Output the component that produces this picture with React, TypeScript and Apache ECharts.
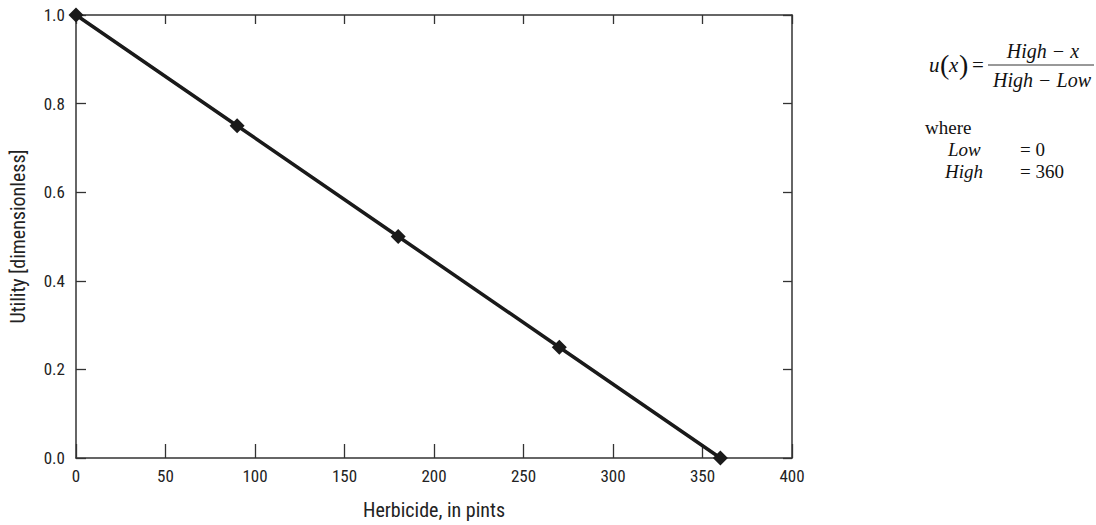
import React, { useEffect, useRef } from "react";
import * as echarts from "echarts";

const herbicide = [0, 90, 180, 270, 360];
const utility = [1.0, 0.75, 0.5, 0.25, 0.0];
const xTitle = "Herbicide, in pints";
const yTitle = "Utility [dimensionless]";

const SANS = "'Liberation Sans Narrow', 'Roboto Condensed', 'Arial Narrow', Roboto, sans-serif";
const SERIF = "'Liberation Serif', 'Times New Roman', serif";

export default function App() {
  const ref = useRef<HTMLDivElement>(null);
  useEffect(() => {
    document.body.style.margin = "0";
    if (!ref.current) return;
    const chart = echarts.init(ref.current, undefined, { renderer: "svg" });
    const axisLine = { show: true, onZero: false, lineStyle: { color: "#333", width: 1.5 } };
    const tickStyle = { color: "#333", width: 1.3 };
    const serif = (x: number, y: number, text: string, italic = false, size = 16, align = "left") => ({
      type: "text",
      x,
      y,
      style: {
        text,
        fontFamily: SERIF,
        fontSize: size,
        fontStyle: italic ? "italic" : "normal",
        fill: "#111",
        align,
        verticalAlign: "middle",
      },
    });
    chart.setOption({
      animation: false,
      backgroundColor: "#fff",
      grid: { left: 76, top: 15, width: 716, height: 447, containLabel: false },
      xAxis: [
        {
          type: "value",
          min: 0,
          max: 400,
          interval: 50,
          position: "bottom",
          name: xTitle,
          nameLocation: "middle",
          nameGap: 42,
          nameTextStyle: { fontFamily: SANS, fontSize: 20, color: "#222" },
          axisLine,
          axisTick: { show: true, inside: true, length: 14, lineStyle: tickStyle },
          axisLabel: { fontFamily: SANS, fontSize: 17, color: "#222", margin: 9 },
          splitLine: { show: false },
        },
        {
          type: "value",
          min: 0,
          max: 400,
          interval: 50,
          position: "top",
          axisLine,
          axisTick: { show: true, inside: true, length: 9, lineStyle: tickStyle },
          axisLabel: { show: false },
          splitLine: { show: false },
        },
      ],
      yAxis: [
        {
          type: "value",
          min: 0,
          max: 1,
          interval: 0.2,
          position: "left",
          name: yTitle,
          nameLocation: "middle",
          nameGap: 48,
          nameTextStyle: { fontFamily: SANS, fontSize: 20, color: "#222" },
          axisLine,
          axisTick: { show: true, inside: true, length: 10, lineStyle: tickStyle },
          axisLabel: {
            fontFamily: SANS,
            fontSize: 17,
            color: "#222",
            margin: 11,
            formatter: (v: number) => v.toFixed(1),
          },
          splitLine: { show: false },
        },
        {
          type: "value",
          min: 0,
          max: 1,
          interval: 0.2,
          position: "right",
          axisLine,
          axisTick: { show: true, inside: true, length: 9, lineStyle: tickStyle },
          axisLabel: { show: false },
          splitLine: { show: false },
        },
      ],
      series: [
        {
          type: "line",
          data: herbicide.map((x, i) => [x, utility[i]]),
          xAxisIndex: 0,
          yAxisIndex: 0,
          symbol: "diamond",
          symbolSize: 15,
          lineStyle: { color: "#1a1a1a", width: 3.5 },
          itemStyle: { color: "#1a1a1a" },
          z: 5,
        },
      ],
      graphic: [
        serif(929, 65, "u", true, 21),
        {
          type: "text",
          x: 940,
          y: 64,
          style: { text: "(", fontFamily: SERIF, fontSize: 28, fill: "#111", verticalAlign: "middle" },
        },
        serif(949, 65, "x", true, 21),
        {
          type: "text",
          x: 959,
          y: 64,
          style: { text: ")", fontFamily: SERIF, fontSize: 28, fill: "#111", verticalAlign: "middle" },
        },
        serif(972, 65, "=", false, 21),
        serif(1043, 51, "High \u2212 x", true, 20, "center"),
        {
          type: "line",
          shape: { x1: 988, y1: 65, x2: 1094, y2: 65 },
          style: { stroke: "#333", lineWidth: 1 },
        },
        serif(1042, 80, "High \u2212 Low", true, 20, "center"),
        serif(925, 127, "where", false, 19),
        serif(948, 149, "Low", true, 19),
        serif(1020, 149, "= 0", false, 19),
        serif(945, 171, "High", true, 19),
        serif(1020, 171, "= 360", false, 19),
      ],
    });
    return () => chart.dispose();
  }, []);
  return <div ref={ref} style={{ width: 1096, height: 525 }} />;
}
